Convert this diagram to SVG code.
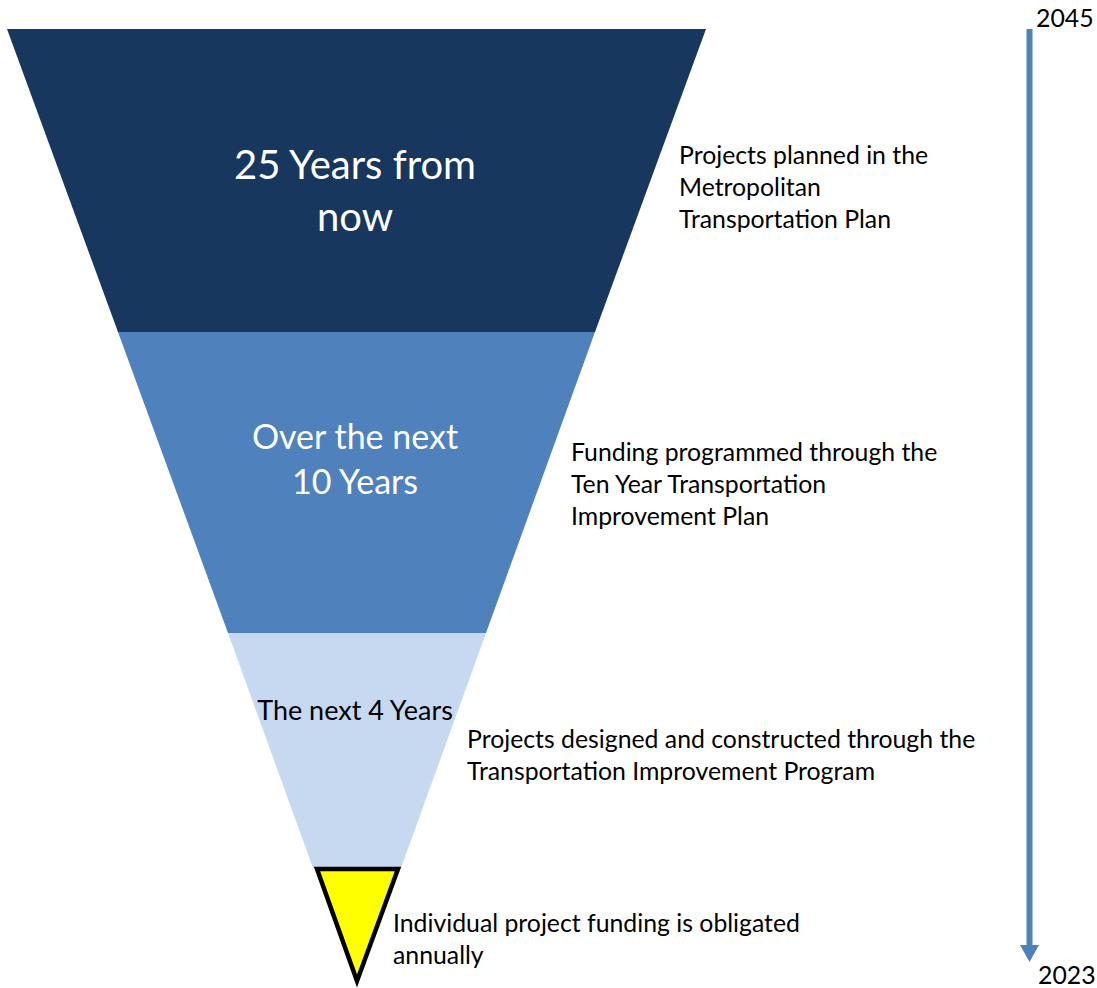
<svg xmlns="http://www.w3.org/2000/svg" width="1097" height="988" viewBox="0 0 1097 988">
<style>
text{font-family:Lato,"Open Sans","Noto Sans",sans-serif;}
.body{font-size:24.8px;fill:#000;}
.white{fill:#fff;text-anchor:middle;}
</style>
<rect width="1097" height="988" fill="#fff"/>
<g id="band1">
<polygon points="7,29 706,29 595,332 118,332" fill="#17375E"/>
<text class="white" x="355" y="179" font-size="40">25 Years from</text>
<text class="white" x="355" y="231" font-size="40">now</text>
</g>
<g id="band2">
<polygon points="118,332 595,332 486,633 228,633" fill="#4F81BD"/>
<text class="white" x="355" y="449" font-size="34">Over the next</text>
<text class="white" x="355" y="494" font-size="34">10 Years</text>
</g>
<g id="band3">
<polygon points="228,633 486,633 401,868 313,868" fill="#C6D9F1"/>
<text x="355" y="720" font-size="27" text-anchor="middle" fill="#000">The next 4 Years</text>
</g>
<g id="apex">
<polygon points="317,869 398,869 357,981" fill="#FFFF00" stroke="#000" stroke-width="4.5" stroke-linejoin="miter"/>
</g>
<g id="labels">
<text class="body" x="679" y="164">Projects planned in the</text>
<text class="body" x="679" y="196">Metropolitan</text>
<text class="body" x="679" y="228">Transportation Plan</text>
<text class="body" x="571" y="461">Funding programmed through the</text>
<text class="body" x="571" y="493">Ten Year Transportation</text>
<text class="body" x="571" y="525">Improvement Plan</text>
<text class="body" x="467" y="748">Projects designed and constructed through the</text>
<text class="body" x="467" y="780">Transportation Improvement Program</text>
<text class="body" x="393" y="932">Individual project funding is obligated</text>
<text class="body" x="393" y="964">annually</text>
</g>
<g id="connectors">
<line x1="1029.5" y1="29" x2="1029.5" y2="946" stroke="#4F81BD" stroke-width="6"/>
<polygon points="1020,945 1039,945 1029.5,962" fill="#4F81BD"/>
</g>
<g id="timeline-labels">
<text class="body" x="1036" y="27" font-size="23">2045</text>
<text class="body" x="1038" y="984" font-size="23">2023</text>
</g>
</svg>
